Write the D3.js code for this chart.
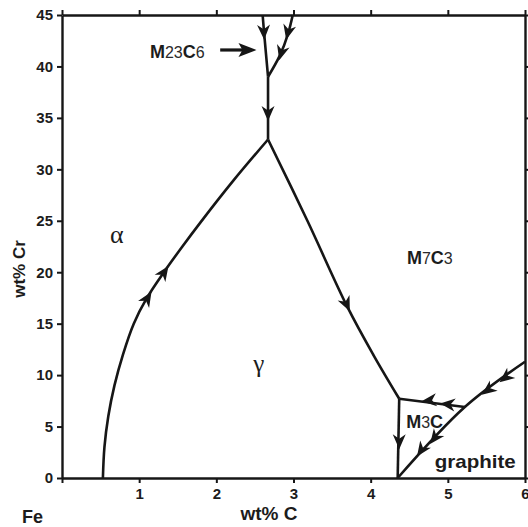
<!DOCTYPE html>
<html><head><meta charset="utf-8">
<script src="https://cdn.jsdelivr.net/npm/d3@7"></script>
<style>
html,body{margin:0;padding:0;background:#fff;}
svg{display:block;}
text{font-family:"Liberation Sans",Arial,sans-serif;fill:#1c1c1c;}
</style></head>
<body>
<script>
// ---- data (wt% C, wt% Cr) ----
const xTicks = [0,1,2,3,4,5,6];
const xTickLabels = ["","1","2","3","4","5","6"];
const yTicks = [0,5,10,15,20,25,30,35,40,45];
const yTickLabels = ["0","5","10","15","20","25","30","35","40","45"];

const alphaGamma = [[0.53,0],[0.55,3],[0.60,6],[0.68,9],[0.79,12],[0.93,15],[1.10,17.5],[1.32,20],[1.56,22.5],[1.79,24.8],[2.22,28.9],[2.67,32.9]];
const gammaM7C3 = [[2.67,32.9],[3.18,25.0],[3.70,16.6],[4.04,11.9],[4.37,7.7]];
const m23Lower = [[2.67,32.9],[2.67,39.0]];
const m23Left = [[2.67,39.0],[2.62,43.2],[2.60,45]];
const m23Right = [[2.67,39.0],[2.825,41.1],[2.93,43.2],[2.99,45]];
const m3cTop = [[4.37,7.7],[5.22,6.9]];
const gammaM3C = [[4.37,7.7],[4.35,0]];
const graphiteLine = [[4.35,0],[5.22,6.9],[6.0,11.3]];
const lines = [alphaGamma, gammaM7C3, m23Lower, m23Left, m23Right, m3cTop, gammaM3C, graphiteLine];

// arrows: tip point and a point behind it (direction of travel)
const arrowTips = [[1.16,18.1],[1.38,20.6],[3.73,16.2],[2.67,34.7],[2.62,42.6],[2.905,42.6],[2.815,40.6],[4.66,7.45],[4.90,7.25],[4.37,2.8],[4.60,2.1],[4.77,3.3],[5.44,8.1],[5.67,9.3]];
const arrowTails = [[1.06,16.9],[1.27,19.4],[3.62,18.0],[2.67,36.5],[2.61,44.4],[2.96,44.3],[2.86,41.8],[4.84,7.6],[5.08,7.1],[4.37,4.6],[4.74,3.6],[4.9,4.6],[5.6,9.0],[5.82,10.2]];

const labelText = ["M23C6","M7C3","M3C","graphite"];
const labelPos = [[1.14,40.8],[4.47,20.8],[4.46,4.9],[4.83,1.0]];
const pointerFrom = [2.05,41.6];
const pointerTo = [2.52,41.6];

// ---- chart ----
const W = 528, H = 527;
const svg = d3.select("body").append("svg").attr("width",W).attr("height",H);
const x = d3.scaleLinear().domain([0,6]).range([62,525]);
const y = d3.scaleLinear().domain([0,45]).range([478,15]);
const ink = "#161616";

function styleAxis(g){
  g.select(".domain").attr("stroke",ink).attr("stroke-width",2.4);
  g.selectAll(".tick line").attr("stroke",ink).attr("stroke-width",2);
  g.selectAll(".tick text").attr("font-size",15).attr("font-weight","bold")
    .attr("font-family","'Liberation Sans',Arial,sans-serif").attr("fill","#222");
}
svg.append("g").attr("transform",`translate(0,${y(0)})`)
  .call(d3.axisBottom(x).tickValues(xTicks).tickSize(5).tickSizeOuter(0).tickPadding(5).tickFormat((d,i)=>xTickLabels[i]))
  .call(styleAxis);
svg.append("g").attr("transform",`translate(0,${y(45)})`)
  .call(d3.axisTop(x).tickValues(xTicks).tickSize(5).tickSizeOuter(0).tickFormat(""))
  .call(styleAxis);
svg.append("g").attr("transform",`translate(${x(0)},0)`)
  .call(d3.axisLeft(y).tickValues(yTicks).tickSize(5).tickSizeOuter(0).tickPadding(4).tickFormat((d,i)=>yTickLabels[i]))
  .call(styleAxis);
svg.append("g").attr("transform",`translate(${x(6)},0)`)
  .call(d3.axisRight(y).tickValues(yTicks).tickSize(5).tickSizeOuter(0).tickFormat(""))
  .call(styleAxis);

// axis titles
svg.append("text").attr("x",269).attr("y",520).attr("text-anchor","middle")
  .attr("font-size",19).attr("font-weight","bold").text("wt% C");
svg.append("text").attr("x",22).attr("y",523).attr("font-size",18).attr("font-weight","bold").text("Fe");
svg.append("text").attr("transform","translate(25,269) rotate(-90)").attr("text-anchor","middle")
  .attr("font-size",17).attr("font-weight","bold").text("wt% Cr");

// lines
const lineGen = d3.line().x(d=>x(d[0])).y(d=>y(d[1])).curve(d3.curveCatmullRom.alpha(0.5));
svg.append("g").selectAll("path").data(lines).join("path")
  .attr("d",lineGen).attr("fill","none").attr("stroke",ink).attr("stroke-width",2.6)
  .attr("stroke-linejoin","round");

// arrowheads
const headPath = "M0,0 L-15,-6.5 L-10.5,0 L-15,6.5 Z";
svg.append("g").selectAll("path").data(arrowTips).join("path")
  .attr("d",headPath).attr("fill",ink)
  .attr("transform",(d,i)=>{
    const t = arrowTails[i];
    const a = Math.atan2(y(d[1])-y(t[1]), x(d[0])-x(t[0]))*180/Math.PI;
    return `translate(${x(d[0])},${y(d[1])}) rotate(${a})`;
  });

// pointer arrow for M23C6
svg.append("line").attr("x1",x(pointerFrom[0])).attr("y1",y(pointerFrom[1]))
  .attr("x2",x(pointerTo[0])-12).attr("y2",y(pointerTo[1]))
  .attr("stroke",ink).attr("stroke-width",3.2);
svg.append("path").attr("d","M0,0 L-18,-7 L-14,0 L-18,7 Z").attr("fill",ink)
  .attr("transform",`translate(${x(pointerTo[0])},${y(pointerTo[1])})`);

// phase labels with smaller digits
labelText.forEach((s,i)=>{
  const t = svg.append("text").attr("x",x(labelPos[i][0])).attr("y",y(labelPos[i][1]))
    .attr("font-weight","bold").attr("font-size",18);
  if (s==="graphite"){ t.attr("font-size",19).attr("textLength",81).attr("lengthAdjust","spacingAndGlyphs").text(s); return; }
  s.match(/[A-Za-z]+|\d+/g).forEach(part=>{
    const isNum = /\d/.test(part);
    t.append("tspan").attr("font-size",isNum?16:18).attr("font-weight",isNum?"normal":"bold")
      .attr("fill",isNum?"#2a2a2a":"#1c1c1c").text(part);
  });
});

// greek labels
svg.append("text").attr("x",x(0.71)).attr("y",y(22.8)).attr("text-anchor","middle")
  .style("font-family","'Liberation Serif','DejaVu Serif',serif")
  .attr("font-size",26).text("α");
svg.append("text").attr("x",x(2.55)).attr("y",y(10.3)).attr("text-anchor","middle")
  .style("font-family","'Liberation Serif','DejaVu Serif',serif").attr("font-size",25).text("γ");
</script>
</body></html>
